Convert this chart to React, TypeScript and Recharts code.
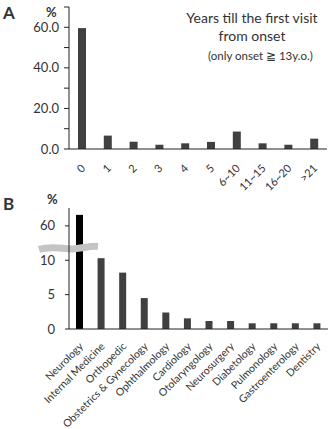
import React from 'react'
import { BarChart, Bar, XAxis, YAxis, Cell, ReferenceLine } from 'recharts'

// panel A: years till first visit
const yearCats = ['0', '1', '2', '3', '4', '5', '6~10', '11~15', '16~20', '>21']
const yearPct = [59.6, 6.6, 3.6, 2.1, 2.8, 3.5, 8.6, 2.8, 2.1, 5.1]
const yearTicks = [0, 10, 20, 30, 40, 50, 60, 70]

// panel B: first department visited
const deptCats = [
  'Neurology', 'Internal Medicine', 'Orthopedic', 'Obstetrics & Gynecology', 'Ophthalmology',
  'Cardiology', 'Otolaryngology', 'Neurosurgery', 'Diabetology', 'Pulmonology',
  'Gastroenterology', 'Dentistry',
]
const deptPct = [61.6, 10.3, 8.2, 4.5, 2.4, 1.55, 1.16, 1.16, 0.83, 0.83, 0.83, 0.83]
const deptTicks = [0, 5, 10, 60]

// broken axis: values from 60 up are drawn right above 10 (60 sits at 15)
const BREAK_HIGH = 60
const BREAK_SHIFT = 15
const toDisp = (v: number) => (v < BREAK_HIGH ? v : BREAK_SHIFT + (v - BREAK_HIGH))
const fromDisp = (d: number) => (d < BREAK_SHIFT - 2 ? d : d - BREAK_SHIFT + BREAK_HIGH)

const font = 'Lato, "Open Sans", sans-serif'
const ink = '#333'
const barColor = '#404040'

const dataA = yearCats.map((c, i) => ({ name: c, pct: yearPct[i] }))
const dataB = deptCats.map((c, i) => ({ name: c, pct: toDisp(deptPct[i]) }))

const RotTick = ({ x, y, payload, size, dx, dy }: any) => (
  <g transform={`translate(${x + dx},${y + dy})`}>
    <text textAnchor="end" fontSize={size} fill={ink} fontFamily={font} transform="rotate(-45)">
      {payload.value}
    </text>
  </g>
)

const BreakMark = (p: any) => {
  const x = p.x1
  const y = p.y1
  return (
    <path
      d={`M ${x - 30} ${y + 1.5} C ${x - 15} ${y - 3}, ${x - 5} ${y + 2}, ${x + 5} ${y + 1} S ${x + 22} ${y - 2}, ${x + 29} ${y - 1.5}`}
      stroke="#c4c4c4"
      strokeWidth={7}
      fill="none"
    />
  )
}

const label = (t: string, x: number, y: number, size: number, weight = 400, anchor = 'start') => (
  <div
    style={{
      position: 'absolute', left: x, top: y, fontSize: size, fontWeight: weight, fontFamily: font,
      color: ink, whiteSpace: 'nowrap', lineHeight: 1,
      transform: anchor === 'middle' ? 'translateX(-50%)' : undefined,
    }}
  >
    {t}
  </div>
)

const yTickStyle = { fontSize: 13, fill: ink, fontFamily: font }

export default function App() {
  return (
    <div style={{ position: 'absolute', left: 0, top: 0, width: 331, height: 429, background: '#fff' }}>
      <style>{'.recharts-surface{overflow:visible}'}</style>
      <div style={{ position: 'absolute', left: 0, top: 0 }}>
        <BarChart width={331} height={190} data={dataA} margin={{ top: 7, right: 4, left: 0, bottom: 0 }}>
          <XAxis
            dataKey="name"
            height={41}
            tickLine={false}
            axisLine={{ stroke: '#222' }}
            interval={0}
            tick={<RotTick size={11} dx={4} dy={12} />}
          />
          <YAxis
            width={69}
            domain={[0, 70]}
            ticks={yearTicks}
            interval={0}
            tickSize={5}
            tickMargin={5}
            axisLine={{ stroke: '#222' }}
            tickLine={{ stroke: '#222' }}
            tick={yTickStyle}
            tickFormatter={(v: number) => (v % 20 === 0 && v < 70 ? v.toFixed(1) : '')}
          />
          <Bar dataKey="pct" fill={barColor} barSize={8} isAnimationActive={false} />
        </BarChart>
      </div>
      <div style={{ position: 'absolute', left: 0, top: 190 }}>
        <BarChart width={331} height={239} data={dataB} margin={{ top: 18, right: 3, left: 0, bottom: 0 }}>
          <XAxis
            dataKey="name"
            height={100}
            tickLine={false}
            axisLine={{ stroke: '#222' }}
            interval={0}
            tick={<RotTick size={10.5} dx={4} dy={10} />}
          />
          <YAxis
            width={69}
            domain={[0, 17.6]}
            ticks={deptTicks.map(toDisp)}
            interval={0}
            tickSize={4}
            tickMargin={10}
            axisLine={{ stroke: '#222' }}
            tickLine={{ stroke: '#222' }}
            tick={yTickStyle}
            tickFormatter={(v: number) => String(Math.round(fromDisp(v)))}
          />
          <Bar dataKey="pct" barSize={7} isAnimationActive={false}>
            {dataB.map((d, i) => (
              <Cell key={d.name} fill={i === 0 ? '#000' : barColor} />
            ))}
          </Bar>
          <ReferenceLine y={11.8} stroke="none" shape={BreakMark} />
        </BarChart>
      </div>
      {label('A', 3, 4, 17, 700)}
      {label('%', 46, 6, 13, 700)}
      {label('Years till the first visit', 252, 11, 14, 400, 'middle')}
      {label('from onset', 252, 29, 14, 400, 'middle')}
      {label('(only onset  \u2267  13y.o.)', 208, 50, 11.5)}
      {label('B', 3, 195, 17, 700)}
      {label('%', 47, 193, 13, 700)}
    </div>
  )
}
